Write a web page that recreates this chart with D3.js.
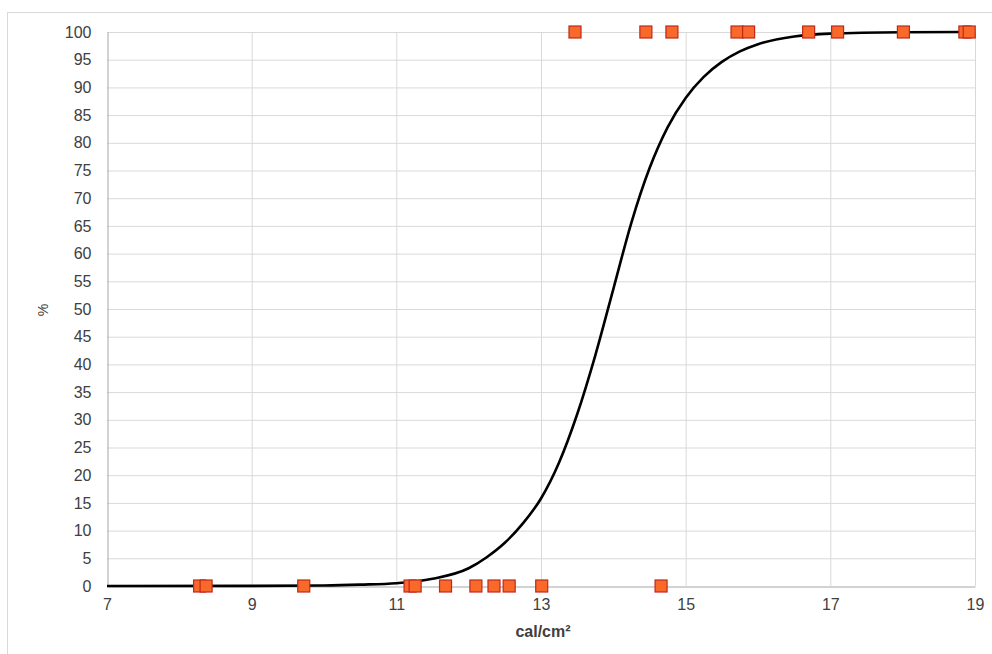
<!DOCTYPE html>
<html>
<head>
<meta charset="utf-8">
<script src="https://cdn.jsdelivr.net/npm/d3@7"></script>
<style>
  body { margin: 0; background: #fff; }
  text { font-family: "Liberation Sans", Arial, sans-serif; }
</style>
</head>
<body>
<div id="graph"></div>
<script>
let width = 992, height = 654;

// observed points (cal/cm2), 100% = burned through, 0% = held
let hitX = [13.47, 14.45, 14.81, 15.71, 15.87, 16.70, 17.10, 18.01, 18.86, 18.92];
let missX = [8.28, 8.37, 9.72, 11.19, 11.26, 11.68, 12.10, 12.35, 12.56, 13.01, 14.66];

// fitted curve
let curveX = [7, 9, 10, 10.5, 11, 11.5, 12, 12.25, 12.5, 12.75, 13, 13.25, 13.5, 13.75,
  14, 14.25, 14.5, 14.75, 15, 15.25, 15.5, 15.75, 16, 16.5, 17, 18, 19];
let curveY = [0, 0.02, 0.1, 0.25, 0.5, 1.3, 3.2, 5.2, 7.8, 11.3, 15.8, 22.3, 31.0, 41.6,
  53.6, 65.6, 75.4, 82.8, 88.1, 91.9, 94.6, 96.5, 97.8, 99.2, 99.7, 99.95, 100];

let xTicks = [7, 9, 11, 13, 15, 17, 19];
let yTicks = d3.range(0, 101, 5);

let svg = d3.select("#graph").append("svg")
  .attr("width", width)
  .attr("height", height);

// outer frame
svg.append("rect")
  .attr("x", 7.5).attr("y", 12.5)
  .attr("width", 1000).attr("height", 700)
  .attr("fill", "#fff")
  .attr("stroke", "#d9d9d9");

let x = d3.scaleLinear().domain([7, 19]).range([107, 975]);
let y = d3.scaleLinear().domain([0, 100]).range([586, 32]);

// grid
svg.append("g").selectAll("line")
  .data(yTicks.filter(d => d > 0))
  .enter().append("line")
  .attr("x1", x(7)).attr("x2", x(19))
  .attr("y1", d => y(d) + 0.5).attr("y2", d => y(d) + 0.5)
  .attr("stroke", "#d9d9d9");

svg.append("g").selectAll("line")
  .data(xTicks.filter(d => d > 7))
  .enter().append("line")
  .attr("x1", d => x(d) + 0.5).attr("x2", d => x(d) + 0.5)
  .attr("y1", y(0)).attr("y2", y(100))
  .attr("stroke", "#d9d9d9");

// axes
let xAxis = svg.append("g")
  .attr("transform", "translate(0," + (y(0) + 0.5) + ")")
  .call(d3.axisBottom(x).tickValues(xTicks).tickSize(0).tickPadding(12));
let yAxis = svg.append("g")
  .attr("transform", "translate(" + (x(7) + 0.5) + ",0)")
  .call(d3.axisLeft(y).tickValues(yTicks).tickSize(0).tickPadding(16));

[xAxis, yAxis].forEach(a => {
  a.select(".domain").attr("stroke", "#a6a6a6");
  a.selectAll("text")
    .attr("fill", "#404040")
    .style("font-size", "16px")
    .style("font-family", "'Liberation Sans', Arial, sans-serif");
});

// axis titles
svg.append("text")
  .attr("x", 543).attr("y", 637)
  .attr("text-anchor", "middle")
  .attr("fill", "#404040")
  .style("font-size", "16px")
  .style("font-weight", "bold")
  .text("cal/cm²");

svg.append("text")
  .attr("transform", "translate(48,310) rotate(-90)")
  .attr("text-anchor", "middle")
  .attr("fill", "#404040")
  .style("font-size", "14px")
  .text("%");

// curve
let line = d3.line()
  .x((d, i) => x(curveX[i]))
  .y(d => y(d))
  .curve(d3.curveMonotoneX);

svg.append("path")
  .datum(curveY)
  .attr("fill", "none")
  .attr("stroke", "#000")
  .attr("stroke-width", 2.6)
  .attr("d", line);

// markers
let pts = hitX.map(v => ({x: v, y: 100})).concat(missX.map(v => ({x: v, y: 0})));
let s = 12;
svg.append("g").selectAll("rect")
  .data(pts)
  .enter().append("rect")
  .attr("x", d => x(d.x) - s / 2)
  .attr("y", d => y(d.y) - s / 2)
  .attr("width", s).attr("height", s)
  .attr("fill", "#f8692a")
  .attr("stroke", "#c0281c")
  .attr("stroke-width", 1.2);
</script>
</body>
</html>
